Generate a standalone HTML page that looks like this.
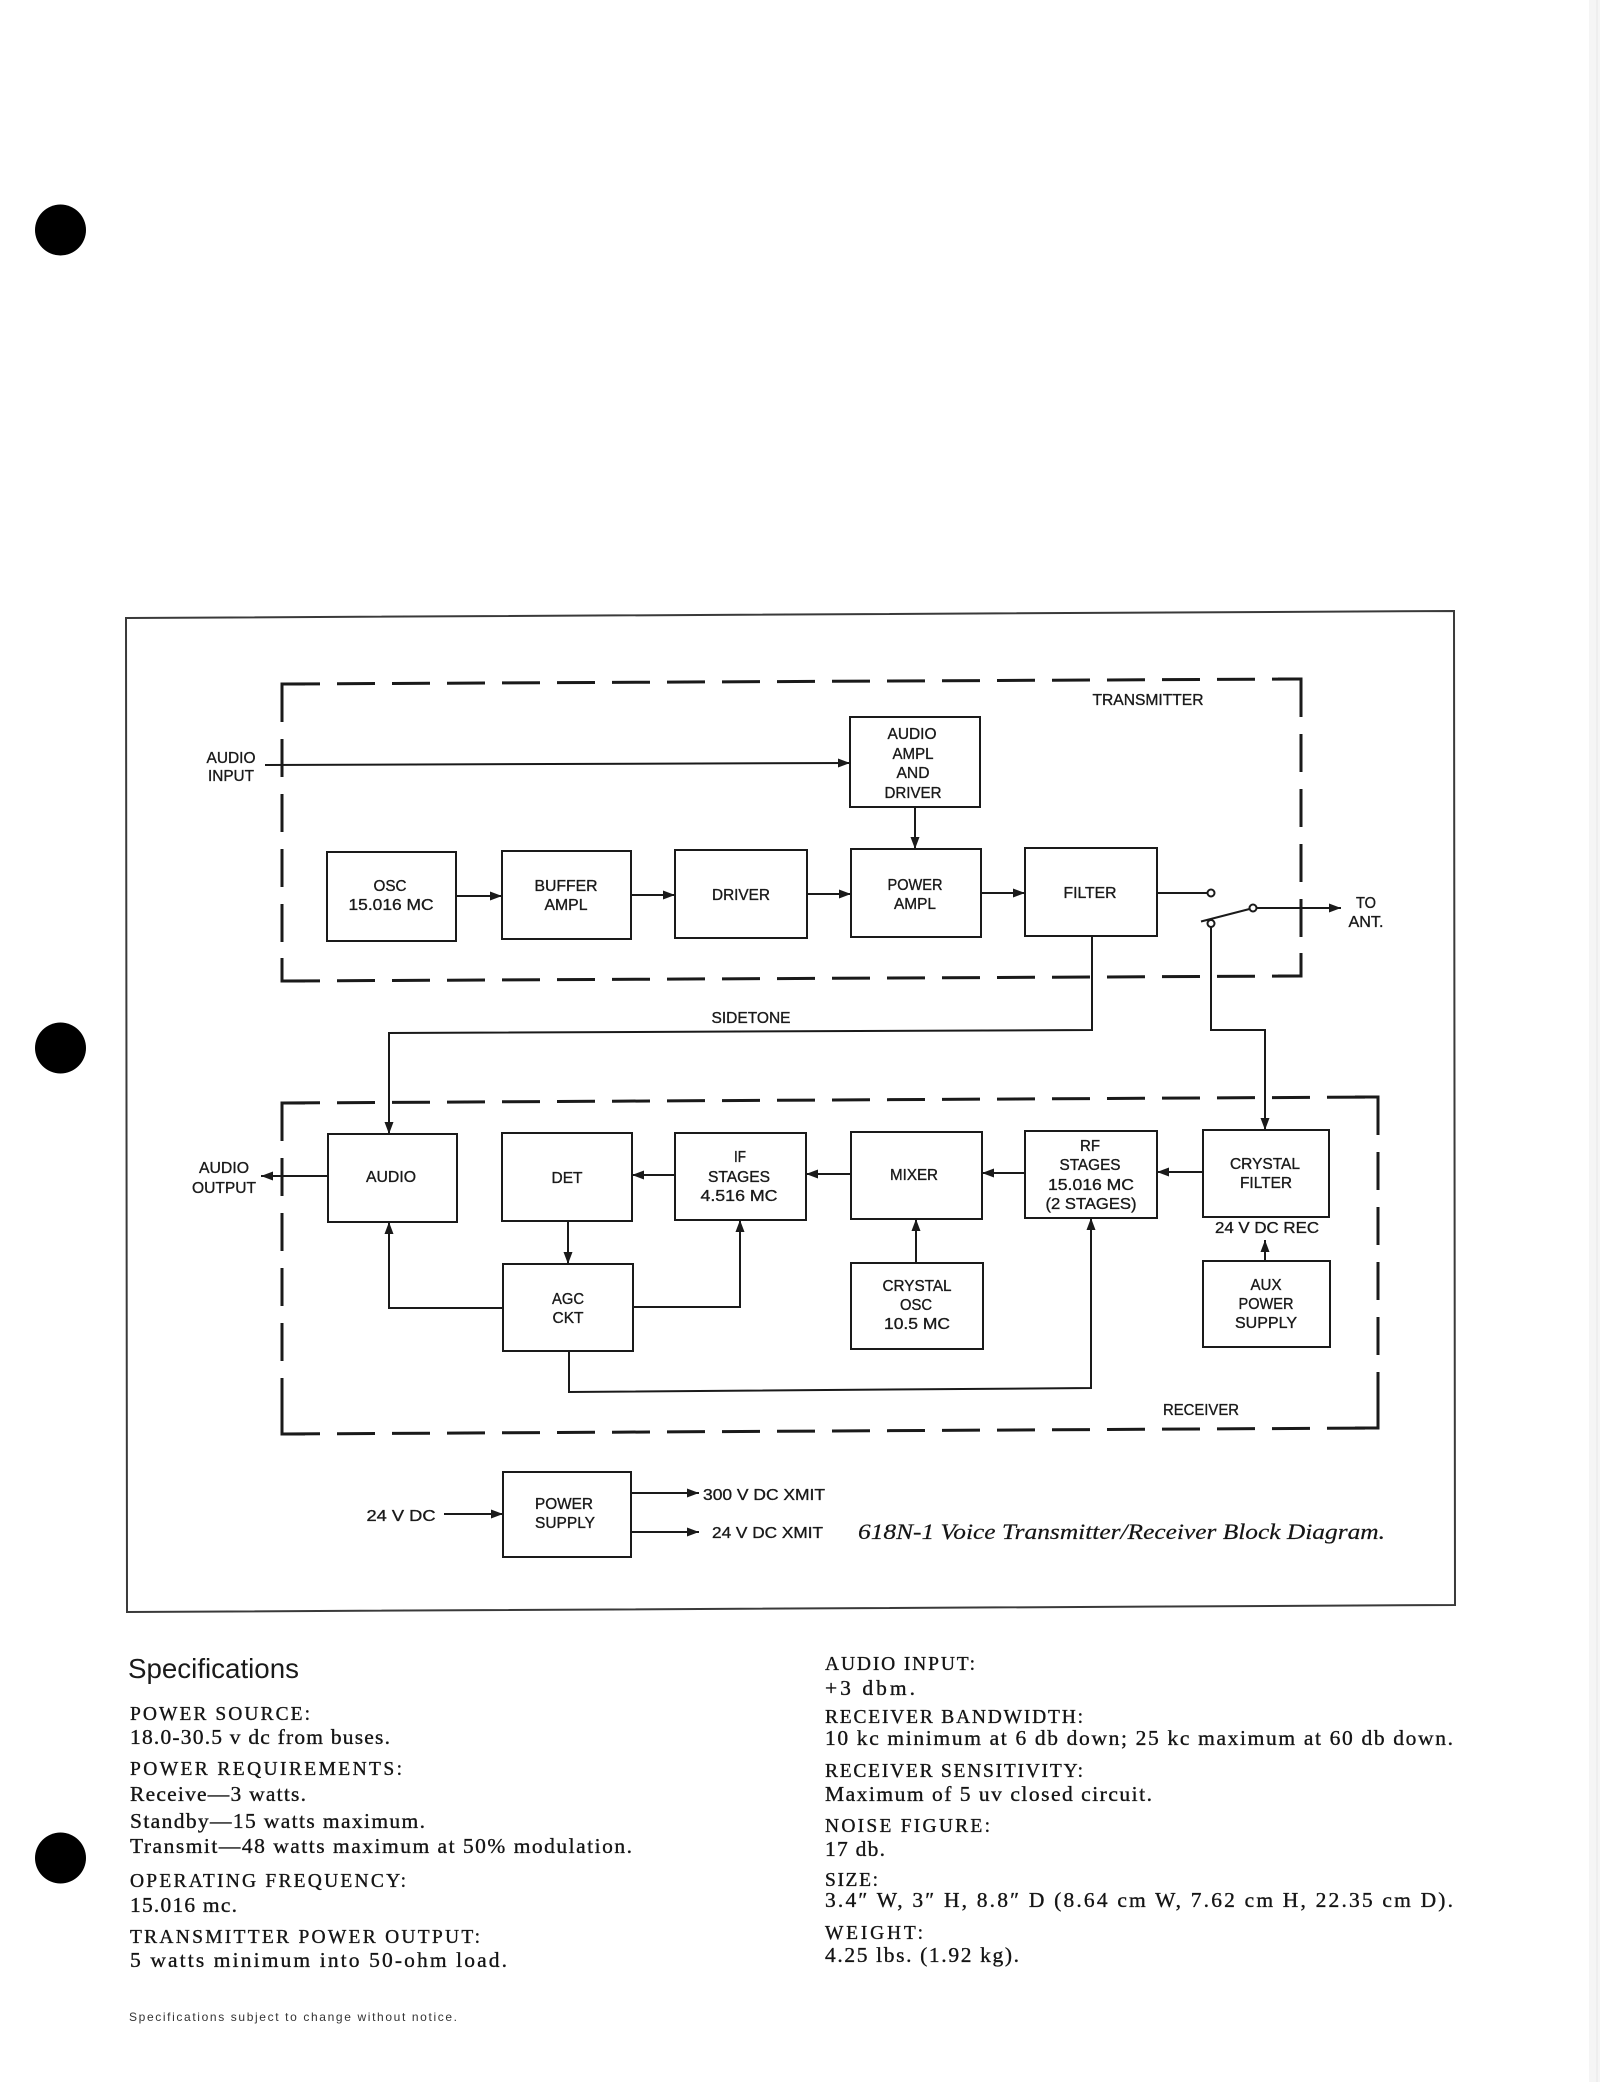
<!DOCTYPE html>
<html><head><meta charset="utf-8"><style>
html,body{margin:0;padding:0;background:#fff;}
svg{display:block;}
.l{font-family:"Liberation Sans",Arial,sans-serif;font-size:16px;fill:#1a1a1a;stroke:#1a1a1a;stroke-width:0.35px;}
.s{font-family:"Liberation Serif","Times New Roman",serif;fill:#151515;stroke:#151515;stroke-width:0.35px;}
</style></head><body>
<svg width="1600" height="2082" viewBox="0 0 1600 2082" xmlns="http://www.w3.org/2000/svg">
<defs>
<marker id="a" viewBox="0 0 12 10" refX="12" refY="5" markerWidth="12" markerHeight="10" orient="auto" markerUnits="userSpaceOnUse"><path d="M0,0.5 L12,5 L0,9.5 z" fill="#1a1a1a"/></marker>
</defs>
<rect width="1600" height="2082" fill="#fff"/>
<rect x="1589" y="0" width="11" height="2082" fill="#f5f5f5"/>
<line x1="1597" y1="0" x2="1597" y2="2082" stroke="#e6e6e6" stroke-width="1"/>

<!-- binder holes -->
<circle cx="60.5" cy="230" r="25.5" fill="#000"/>
<circle cx="60.5" cy="1048" r="25.5" fill="#000"/>
<circle cx="60.5" cy="1858" r="25.5" fill="#000"/>

<!-- outer frame -->
<path d="M126,618 L1454,611 L1455,1605 L127,1612 Z" fill="none" stroke="#3a3a3a" stroke-width="2"/>

<!-- dashed enclosures -->
<g fill="none" stroke="#1a1a1a" stroke-width="3" stroke-dasharray="38 17">
<path d="M282,684 L1301,679"/>
<path d="M1301,679 L1301,976"/>
<path d="M282,981 L1301,976"/>
<path d="M282,684 L282,981"/>
<path d="M282,1103 L1378,1097"/>
<path d="M1378,1097 L1378,1428"/>
<path d="M282,1434 L1378,1428"/>
<path d="M282,1103 L282,1434"/>
</g>
<g fill="none" stroke="#1a1a1a" stroke-width="3">
<path d="M282,710 L282,684 L305,684"/>
<path d="M1278,679 L1301,679 L1301,702"/>
<path d="M282,958 L282,981 L305,981"/>
<path d="M1278,976 L1301,976 L1301,953"/>
<path d="M282,1125 L282,1103 L305,1103"/>
<path d="M1355,1097 L1378,1097 L1378,1120"/>
<path d="M282,1412 L282,1434 L305,1434"/>
<path d="M1355,1428 L1378,1428 L1378,1406"/>
</g>

<!-- boxes -->
<g fill="none" stroke="#1a1a1a" stroke-width="2">
<rect x="850" y="717" width="130" height="90"/>
<rect x="327" y="852" width="129" height="89"/>
<rect x="502" y="851" width="129" height="88"/>
<rect x="675" y="850" width="132" height="88"/>
<rect x="851" y="849" width="130" height="88"/>
<rect x="1025" y="848" width="132" height="88"/>
<rect x="328" y="1134" width="129" height="88"/>
<rect x="502" y="1133" width="130" height="88"/>
<rect x="675" y="1133" width="131" height="87"/>
<rect x="851" y="1132" width="131" height="87"/>
<rect x="1025" y="1131" width="132" height="87"/>
<rect x="1203" y="1130" width="126" height="87"/>
<rect x="503" y="1264" width="130" height="87"/>
<rect x="851" y="1263" width="132" height="86"/>
<rect x="1203" y="1261" width="127" height="86"/>
<rect x="503" y="1472" width="128" height="85"/>
</g>

<!-- connectors -->
<g fill="none" stroke="#1a1a1a" stroke-width="2">
<path d="M265,765 L850,763" marker-end="url(#a)"/>
<path d="M456,896 L502,896" marker-end="url(#a)"/>
<path d="M631,895 L675,895" marker-end="url(#a)"/>
<path d="M807,894 L851,894" marker-end="url(#a)"/>
<path d="M915,807 L915,849" marker-end="url(#a)"/>
<path d="M981,893 L1025,893" marker-end="url(#a)"/>
<path d="M1157,893 L1207.5,893"/>
<path d="M1201,921.5 L1249.5,909"/>
<path d="M1256.5,908 L1341,908" marker-end="url(#a)"/>
<path d="M1092,936 L1092,1030 L389,1033 L389,1134" marker-end="url(#a)"/>
<path d="M1211,927 L1211,1030 L1265,1030 L1265,1130" marker-end="url(#a)"/>
<path d="M1203,1172 L1157,1172" marker-end="url(#a)"/>
<path d="M1025,1173 L982,1173" marker-end="url(#a)"/>
<path d="M851,1174 L806,1174" marker-end="url(#a)"/>
<path d="M675,1175 L632,1175" marker-end="url(#a)"/>
<path d="M328,1176 L261,1176" marker-end="url(#a)"/>
<path d="M568,1221 L568,1264" marker-end="url(#a)"/>
<path d="M503,1308 L389,1308 L389,1222" marker-end="url(#a)"/>
<path d="M633,1307 L740,1307 L740,1220" marker-end="url(#a)"/>
<path d="M569,1351 L569,1392 L1091,1388 L1091,1218" marker-end="url(#a)"/>
<path d="M916,1263 L916,1219" marker-end="url(#a)"/>
<path d="M1265,1261 L1265,1240" marker-end="url(#a)"/>
<path d="M444,1514 L503,1514" marker-end="url(#a)"/>
<path d="M631,1493 L699,1493" marker-end="url(#a)"/>
<path d="M631,1532 L699,1532" marker-end="url(#a)"/>
</g>
<g fill="#fff" stroke="#1a1a1a" stroke-width="2">
<circle cx="1211" cy="893" r="3.5"/>
<circle cx="1211" cy="923.5" r="3.5"/>
<circle cx="1253" cy="908" r="3.5"/>
</g>

<!-- diagram labels -->
<g class="l" text-anchor="middle">
<text x="231" y="763" textLength="49" lengthAdjust="spacingAndGlyphs">AUDIO</text>
<text x="231" y="781" textLength="46" lengthAdjust="spacingAndGlyphs">INPUT</text>
<text x="912" y="739" textLength="49" lengthAdjust="spacingAndGlyphs">AUDIO</text>
<text x="913" y="759" textLength="41" lengthAdjust="spacingAndGlyphs">AMPL</text>
<text x="913" y="778" textLength="33" lengthAdjust="spacingAndGlyphs">AND</text>
<text x="913" y="798" textLength="57" lengthAdjust="spacingAndGlyphs">DRIVER</text>
<text x="390" y="891" textLength="33" lengthAdjust="spacingAndGlyphs">OSC</text>
<text x="391" y="910" textLength="85" lengthAdjust="spacingAndGlyphs">15.016 MC</text>
<text x="566" y="891" textLength="63" lengthAdjust="spacingAndGlyphs">BUFFER</text>
<text x="566" y="910" textLength="43" lengthAdjust="spacingAndGlyphs">AMPL</text>
<text x="741" y="900" textLength="58" lengthAdjust="spacingAndGlyphs">DRIVER</text>
<text x="915" y="890" textLength="55" lengthAdjust="spacingAndGlyphs">POWER</text>
<text x="915" y="909" textLength="42" lengthAdjust="spacingAndGlyphs">AMPL</text>
<text x="1090" y="898" textLength="53" lengthAdjust="spacingAndGlyphs">FILTER</text>
<text x="1148" y="705" textLength="111" lengthAdjust="spacingAndGlyphs">TRANSMITTER</text>
<text x="1366" y="908" textLength="20" lengthAdjust="spacingAndGlyphs">TO</text>
<text x="1366" y="927" textLength="35" lengthAdjust="spacingAndGlyphs">ANT.</text>
<text x="751" y="1023" textLength="79" lengthAdjust="spacingAndGlyphs">SIDETONE</text>

<text x="224" y="1173" textLength="50" lengthAdjust="spacingAndGlyphs">AUDIO</text>
<text x="224" y="1193" textLength="64" lengthAdjust="spacingAndGlyphs">OUTPUT</text>
<text x="391" y="1182" textLength="50" lengthAdjust="spacingAndGlyphs">AUDIO</text>
<text x="567" y="1183" textLength="31" lengthAdjust="spacingAndGlyphs">DET</text>
<text x="740" y="1162" textLength="12" lengthAdjust="spacingAndGlyphs">IF</text>
<text x="739" y="1182" textLength="62" lengthAdjust="spacingAndGlyphs">STAGES</text>
<text x="739" y="1201" textLength="77" lengthAdjust="spacingAndGlyphs">4.516 MC</text>
<text x="914" y="1180" textLength="48" lengthAdjust="spacingAndGlyphs">MIXER</text>
<text x="1090" y="1151" textLength="20" lengthAdjust="spacingAndGlyphs">RF</text>
<text x="1090" y="1170" textLength="61" lengthAdjust="spacingAndGlyphs">STAGES</text>
<text x="1091" y="1190" textLength="86" lengthAdjust="spacingAndGlyphs">15.016 MC</text>
<text x="1091" y="1209" textLength="91" lengthAdjust="spacingAndGlyphs">(2 STAGES)</text>
<text x="1265" y="1169" textLength="70" lengthAdjust="spacingAndGlyphs">CRYSTAL</text>
<text x="1266" y="1188" textLength="52" lengthAdjust="spacingAndGlyphs">FILTER</text>
<text x="1267" y="1233" textLength="104" lengthAdjust="spacingAndGlyphs">24 V DC REC</text>
<text x="1266" y="1290" textLength="31" lengthAdjust="spacingAndGlyphs">AUX</text>
<text x="1266" y="1309" textLength="55" lengthAdjust="spacingAndGlyphs">POWER</text>
<text x="1266" y="1328" textLength="62" lengthAdjust="spacingAndGlyphs">SUPPLY</text>
<text x="568" y="1304" textLength="32" lengthAdjust="spacingAndGlyphs">AGC</text>
<text x="568" y="1323" textLength="31" lengthAdjust="spacingAndGlyphs">CKT</text>
<text x="917" y="1291" textLength="69" lengthAdjust="spacingAndGlyphs">CRYSTAL</text>
<text x="916" y="1310" textLength="32" lengthAdjust="spacingAndGlyphs">OSC</text>
<text x="917" y="1329" textLength="66" lengthAdjust="spacingAndGlyphs">10.5 MC</text>
<text x="1201" y="1415" textLength="76" lengthAdjust="spacingAndGlyphs">RECEIVER</text>

<text x="401" y="1521" textLength="69" lengthAdjust="spacingAndGlyphs">24 V DC</text>
<text x="564" y="1509" textLength="58" lengthAdjust="spacingAndGlyphs">POWER</text>
<text x="565" y="1528" textLength="60" lengthAdjust="spacingAndGlyphs">SUPPLY</text>
</g>
<g class="l">
<text x="703" y="1500" textLength="122" lengthAdjust="spacingAndGlyphs">300 V DC XMIT</text>
<text x="712" y="1538" textLength="111" lengthAdjust="spacingAndGlyphs">24 V DC XMIT</text>
</g>

<!-- caption -->
<text class="s" x="858" y="1539" font-size="22" font-style="italic" style="stroke-width:0.2px" textLength="527" lengthAdjust="spacingAndGlyphs">618N-1 Voice Transmitter/Receiver Block Diagram.</text>

<!-- specifications -->
<text x="128" y="1678" font-family="Liberation Sans, Arial, sans-serif" font-size="28" fill="#1a1a1a" textLength="171" lengthAdjust="spacingAndGlyphs">Specifications</text>

<g class="s" font-size="19.5">
<text x="130" y="1720" textLength="180" lengthAdjust="spacing">POWER SOURCE:</text>
<text x="130" y="1775" textLength="272" lengthAdjust="spacing">POWER REQUIREMENTS:</text>
<text x="130" y="1887" textLength="276" lengthAdjust="spacing">OPERATING FREQUENCY:</text>
<text x="130" y="1943" textLength="350" lengthAdjust="spacing">TRANSMITTER POWER OUTPUT:</text>
<text x="825" y="1670" textLength="150" lengthAdjust="spacing">AUDIO INPUT:</text>
<text x="825" y="1723" textLength="258" lengthAdjust="spacing">RECEIVER BANDWIDTH:</text>
<text x="825" y="1777" textLength="258" lengthAdjust="spacing">RECEIVER SENSITIVITY:</text>
<text x="825" y="1832" textLength="165" lengthAdjust="spacing">NOISE FIGURE:</text>
<text x="825" y="1886" textLength="53" lengthAdjust="spacing">SIZE:</text>
<text x="825" y="1939" textLength="98" lengthAdjust="spacing">WEIGHT:</text>
</g>
<g class="s" font-size="21.5">
<text x="130" y="1744" textLength="260" lengthAdjust="spacing">18.0-30.5 v dc from buses.</text>
<text x="130" y="1801" textLength="176" lengthAdjust="spacing">Receive—3 watts.</text>
<text x="130" y="1828" textLength="295" lengthAdjust="spacing">Standby—15 watts maximum.</text>
<text x="130" y="1853" textLength="502" lengthAdjust="spacing">Transmit—48 watts maximum at 50% modulation.</text>
<text x="130" y="1912" textLength="107" lengthAdjust="spacing">15.016 mc.</text>
<text x="130" y="1967" textLength="377" lengthAdjust="spacing">5 watts minimum into 50-ohm load.</text>
<text x="825" y="1695" textLength="90" lengthAdjust="spacing">+3 dbm.</text>
<text x="825" y="1745" textLength="628" lengthAdjust="spacing">10 kc minimum at 6 db down; 25 kc maximum at 60 db down.</text>
<text x="825" y="1801" textLength="327" lengthAdjust="spacing">Maximum of 5 uv closed circuit.</text>
<text x="825" y="1856" textLength="60" lengthAdjust="spacing">17 db.</text>
<text x="825" y="1907" textLength="628" lengthAdjust="spacing">3.4″ W, 3″ H, 8.8″ D (8.64 cm W, 7.62 cm H, 22.35 cm D).</text>
<text x="825" y="1962" textLength="194" lengthAdjust="spacing">4.25 lbs. (1.92 kg).</text>
</g>

<text x="129" y="2021" font-family="Liberation Sans, Arial, sans-serif" font-size="12" fill="#333" textLength="328" lengthAdjust="spacing">Specifications subject to change without notice.</text>
</svg>
</body></html>
